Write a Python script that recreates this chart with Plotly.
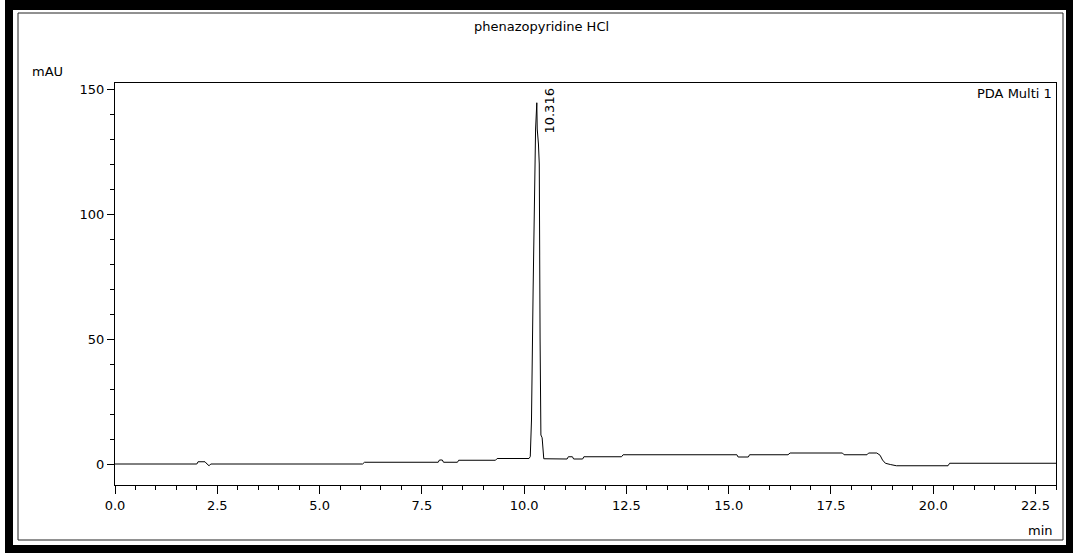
import plotly.graph_objects as go

# ---- data ----
time_min = [0.00, 2.00, 2.03, 2.20, 2.25, 2.30, 2.34, 6.05, 6.10, 7.90, 7.93, 8.00, 8.03, 8.37,
            8.40, 9.30, 9.34, 10.12, 10.15, 10.18, 10.22, 10.26, 10.28, 10.31, 10.32, 10.35,
            10.37, 10.39, 10.40, 10.41, 10.44, 10.46, 10.48, 11.05, 11.08, 11.18, 11.21, 11.43,
            11.46, 12.38, 12.42, 15.20, 15.23, 15.48, 15.51, 16.45, 16.50, 17.78, 17.82, 18.38,
            18.42, 18.62, 18.70, 18.76, 18.83, 18.95, 19.10, 20.36, 20.40, 23.00]
absorbance_mAU = [0.0, 0.0, 0.9, 0.9, 0.0, -0.7, 0.0, 0.0, 0.7, 0.7, 1.6, 1.6, 0.7, 0.7,
                  1.5, 1.5, 2.2, 2.2, 3.0, 17.6, 70.0, 120.0, 134.0, 144.5, 134.0, 128.0,
                  120.0, 50.0, 17.6, 11.6, 10.5, 4.0, 2.1, 2.0, 2.9, 2.9, 2.0, 2.0,
                  2.9, 2.9, 3.7, 3.7, 2.8, 2.8, 3.7, 3.7, 4.4, 4.4, 3.7, 3.7,
                  4.4, 4.4, 3.5, 1.6, 0.3, -0.2, -0.7, -0.7, 0.3, 0.3]

peak_rt = [10.316]
peak_label_y = [141.4]
x_tickvals = [0.0, 2.5, 5.0, 7.5, 10.0, 12.5, 15.0, 17.5, 20.0, 22.5]
y_tickvals = [0, 50, 100, 150]

title_text = "phenazopyridine HCl"
y_unit = "mAU"
x_unit = "min"
channel = "PDA Multi 1"

# ---- layout geometry (pixels) ----
FW, FH = 1075, 553
L, R, T, B = 115, 1056, 83, 485
W, H = R - L, B - T


def px(x):
    return (x - L) / W


def py(y):
    return (B - y) / H


FONT = "DejaVu Sans"

fig = go.Figure()
fig.add_trace(go.Scatter(x=time_min, y=absorbance_mAU, mode="lines",
                         line=dict(color="black", width=1), showlegend=False,
                         hoverinfo="x+y"))

shapes = []
# outer thick black frame
for (x0, y0, x1, y1) in [(5, 0, 1073, 10), (5, 0, 13, 553), (1066, 0, 1073, 553), (5, 545, 1073, 553)]:
    shapes.append(dict(type="rect", xref="paper", yref="paper",
                       x0=px(x0), x1=px(x1), y0=py(y1), y1=py(y0),
                       fillcolor="black", line=dict(width=0), layer="above"))
# inner thin frame
shapes.append(dict(type="rect", xref="paper", yref="paper",
                   x0=px(18), x1=px(1063), y0=py(540), y1=py(13),
                   fillcolor="rgba(0,0,0,0)", line=dict(color="#222", width=1), layer="above"))

annotations = [
    dict(text=title_text, xref="paper", yref="paper", x=px(541), y=py(27),
         xanchor="center", yanchor="middle", showarrow=False,
         font=dict(family=FONT, size=13, color="black")),
    dict(text=y_unit, xref="paper", yref="paper", x=px(47), y=py(72),
         xanchor="center", yanchor="middle", showarrow=False,
         font=dict(family=FONT, size=13, color="black")),
    dict(text=x_unit, xref="paper", yref="paper", x=px(1055), y=py(530),
         xanchor="right", yanchor="middle", showarrow=False,
         font=dict(family=FONT, size=13, color="black")),
    dict(text=channel, xref="paper", yref="paper", x=px(1054), y=py(93),
         xanchor="right", yanchor="middle", showarrow=False,
         font=dict(family=FONT, size=13, color="black")),
    dict(text=f"{peak_rt[0]:.3f}", xref="x", yref="y", x=peak_rt[0], y=peak_label_y[0],
         xshift=12, textangle=-90, xanchor="center", yanchor="middle", showarrow=False,
         font=dict(family=FONT, size=13, color="black")),
]

fig.update_layout(
    width=FW, height=FH,
    margin=dict(l=L, r=FW - R, t=T, b=FH - B, pad=0),
    paper_bgcolor="white", plot_bgcolor="white",
    font=dict(family=FONT, size=13, color="black"),
    shapes=shapes, annotations=annotations, showlegend=False,
    xaxis=dict(range=[0, 23.0], tickvals=x_tickvals, tickformat=".1f",
               ticks="outside", ticklen=8, tickwidth=1, tickcolor="black",
               minor=dict(dtick=0.5, tick0=0, ticks="outside", ticklen=4, tickcolor="black", showgrid=False),
               showline=True, linecolor="black", linewidth=1, mirror=True,
               showgrid=False, zeroline=False, fixedrange=True,
               tickfont=dict(family=FONT, size=13, color="black")),
    yaxis=dict(range=[-8.4, 152.4], tickvals=y_tickvals,
               ticks="outside", ticklen=7, tickwidth=1, tickcolor="black",
               minor=dict(dtick=10, tick0=0, ticks="outside", ticklen=4, tickcolor="black", showgrid=False),
               showline=True, linecolor="black", linewidth=1, mirror=True,
               showgrid=False, zeroline=False, fixedrange=True,
               tickfont=dict(family=FONT, size=13, color="black")),
)

fig.write_html("out.html")
